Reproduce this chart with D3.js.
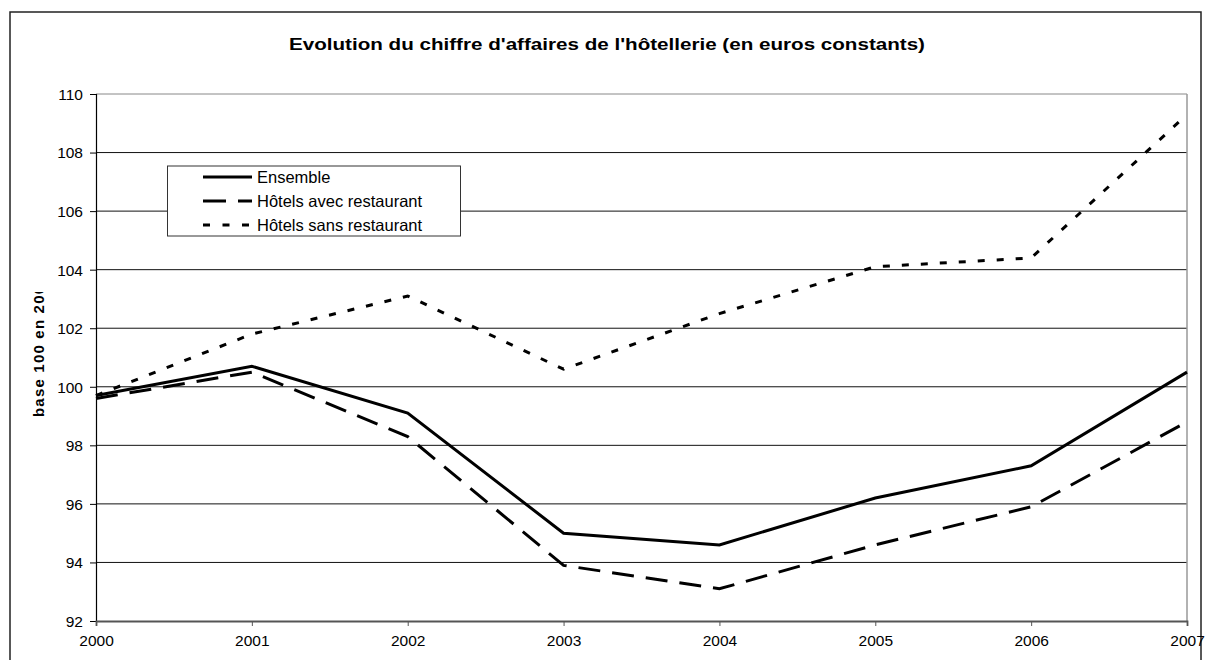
<!DOCTYPE html>
<html><head><meta charset="utf-8">
<script src="https://cdn.jsdelivr.net/npm/d3@7"></script>
<style>body{margin:0;background:#fff}svg{display:block}text{font-family:"Liberation Sans",Arial,sans-serif}</style>
</head><body>
<svg id="c" width="1211" height="660"></svg>
<script>
const years = [2000, 2001, 2002, 2003, 2004, 2005, 2006, 2007];
const ensemble = [99.7, 100.7, 99.1, 95.0, 94.6, 96.2, 97.3, 100.5];
const avecRestaurant = [99.6, 100.5, 98.3, 93.9, 93.1, 94.6, 95.9, 98.8];
const sansRestaurant = [99.7, 101.8, 103.1, 100.6, 102.5, 104.1, 104.4, 109.3];
const yTicks = [92, 94, 96, 98, 100, 102, 104, 106, 108, 110];
const seriesNames = ["Ensemble", "Hôtels avec restaurant", "Hôtels sans restaurant"];
const titleText = "Evolution du chiffre d'affaires de l'hôtellerie (en euros constants)";
const yLabelText = "base 100 en 2000";

const svg = d3.select("#c");
const L = 96, R = 1187, T = 94, B = 621;
const x = d3.scaleLinear().domain([2000, 2007]).range([L, R]);
const y = d3.scaleLinear().domain([92, 110]).range([B, T]);

// outer frame
svg.append("rect").attr("x", 10).attr("y", 12).attr("width", 1191).attr("height", 720)
  .attr("fill", "none").attr("stroke", "#222").attr("stroke-width", 1.5);

// title
svg.append("text").attr("x", 607).attr("y", 50).attr("text-anchor", "middle")
  .attr("font-size", 17).attr("font-weight", "bold").attr("textLength", 636)
  .attr("lengthAdjust", "spacingAndGlyphs").text(titleText);

// gridlines
svg.append("g").selectAll("line").data(yTicks.filter(d => d !== 92)).join("line")
  .attr("x1", L).attr("x2", R).attr("y1", d => y(d)).attr("y2", d => y(d))
  .attr("stroke", d => d === 110 ? "#888" : "#111").attr("stroke-width", 1);

// right border of plot
svg.append("line").attr("x1", R).attr("x2", R).attr("y1", T).attr("y2", B)
  .attr("stroke", "#999").attr("stroke-width", 1.5);

// y axis
const yAxis = svg.append("g").attr("transform", `translate(${L},0)`)
  .call(d3.axisLeft(y).tickValues(yTicks).tickSize(6).tickPadding(7).tickFormat(d3.format("d")));
yAxis.select(".domain").attr("stroke", "#000").attr("stroke-width", 1.2);
yAxis.selectAll(".tick line").attr("stroke", "#000");
yAxis.selectAll("text").attr("font-size", 15.5).attr("font-family", '"Liberation Sans",Arial,sans-serif')
  .attr("fill", "#000").attr("dy", "0.35em");

// x axis
const xAxis = svg.append("g").attr("transform", `translate(0,${B})`)
  .call(d3.axisBottom(x).tickValues(years).tickSize(5).tickPadding(9).tickFormat(d3.format("d")));
xAxis.select(".domain").attr("stroke", "#555").attr("stroke-width", 1.8);
xAxis.selectAll(".tick line").attr("stroke", "#555");
xAxis.selectAll("text").attr("font-size", 15.5).attr("font-family", '"Liberation Sans",Arial,sans-serif')
  .attr("fill", "#000");

// y label, clipped
svg.append("clipPath").attr("id", "ylc").append("rect")
  .attr("x", 0).attr("y", 292).attr("width", 80).attr("height", 400);
svg.append("g").attr("clip-path", "url(#ylc)").append("text")
  .attr("transform", "translate(44,417) rotate(-90)")
  .attr("font-size", 15).attr("font-weight", "bold").attr("letter-spacing", "1.2px")
  .text(yLabelText);

// lines
const data = [ensemble, avecRestaurant, sansRestaurant];
const dashes = [null, "22,12", "7,12"];
const line = d3.line().x((d, i) => x(years[i])).y(d => y(d));
svg.append("g").selectAll("path").data(data).join("path")
  .attr("d", line).attr("fill", "none").attr("stroke", "#000").attr("stroke-width", 3)
  .attr("stroke-dasharray", (d, i) => dashes[i]).attr("stroke-linejoin", "miter");

// legend
const lg = svg.append("g");
lg.append("rect").attr("x", 167.5).attr("y", 166).attr("width", 293).attr("height", 70)
  .attr("fill", "#fff").attr("stroke", "#333").attr("stroke-width", 1);
const legDash = [null, "23,12", "7,12.5"];
const rowsY = [177, 201, 225];
seriesNames.forEach((n, i) => {
  lg.append("line").attr("x1", 203).attr("x2", 252).attr("y1", rowsY[i]).attr("y2", rowsY[i])
    .attr("stroke", "#000").attr("stroke-width", 3).attr("stroke-dasharray", legDash[i]);
  lg.append("text").attr("x", 257).attr("y", rowsY[i] + 5.5).attr("font-size", 16.5)
    .text(n);
});
</script>
</body></html>
